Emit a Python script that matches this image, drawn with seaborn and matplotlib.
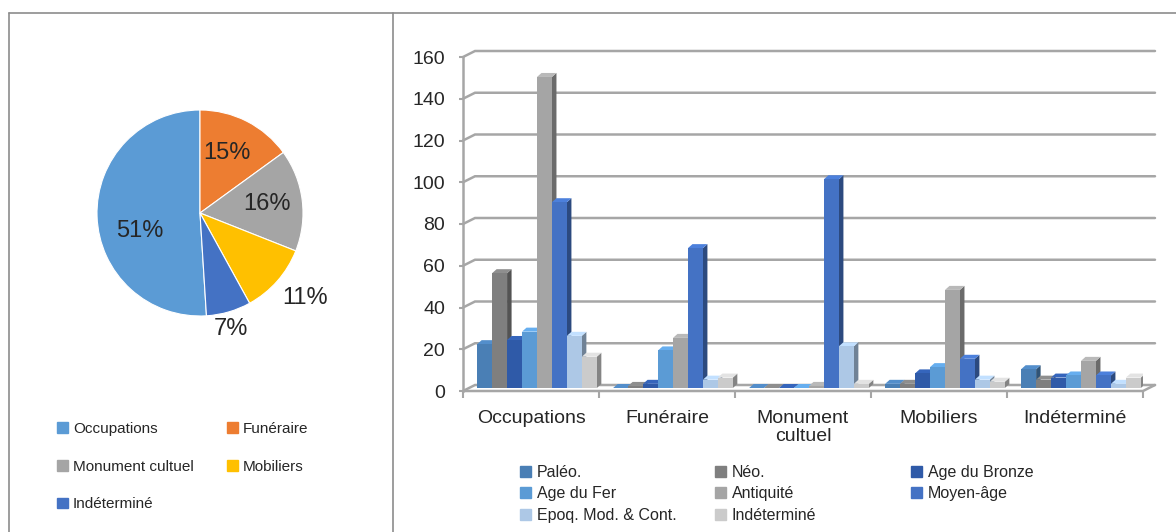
import numpy as np
import pandas as pd
import matplotlib
matplotlib.use("Agg")
import matplotlib.pyplot as plt
import seaborn as sns
from matplotlib.patches import Polygon, Rectangle
from matplotlib.lines import Line2D
import matplotlib.colors as mcolors

# ---- data ----
pie_labels = ["Occupations", "Funéraire", "Monument cultuel", "Mobiliers", "Indéterminé"]
pie_pct = [51, 15, 16, 11, 7]
pie_colors = ["#5B9BD5", "#ED7D31", "#A5A5A5", "#FFC000", "#4472C4"]

categories = ["Occupations", "Funéraire", "Monument\ncultuel", "Mobiliers", "Indéterminé"]
periods = ["Paléo.", "Néo.", "Age du Bronze", "Age du Fer", "Antiquité",
           "Moyen-âge", "Epoq. Mod. & Cont.", "Indéterminé"]
paleo = [21, 0, 0, 2, 9]
neo = [55, 1, 0, 2, 4]
bronze = [23, 2, 0, 7, 5]
fer = [27, 18, 0, 10, 6]
antiquite = [149, 24, 1, 47, 13]
moyen_age = [89, 67, 100, 14, 6]
epoque = [25, 4, 20, 4, 2]
indet = [15, 5, 2, 3, 5]
bar_colors = ["#4A7FB5", "#7F7F7F", "#2F5AA8", "#5B9BD5", "#A5A5A5",
              "#4472C4", "#ADC8E6", "#CBCBCB"]
yticks = [0, 20, 40, 60, 80, 100, 120, 140, 160]

series = [paleo, neo, bronze, fer, antiquite, moyen_age, epoque, indet]
df = pd.DataFrame({
    "cat": categories * len(periods),
    "period": np.repeat(periods, len(categories)),
    "val": np.concatenate(series),
})

sns.set_theme(style="white")
plt.rcParams["font.family"] = ["Liberation Sans", "DejaVu Sans"]

fig = plt.figure(figsize=(11.76, 5.32), dpi=100)
W, H = 1176, 532

def fx(px):
    return px / W

def fy(py):
    return 1 - py / H

# panel frames
border = "#8C8C8C"
fig.add_artist(Line2D([fx(9), 1], [fy(13), fy(13)], color=border, lw=1.2))
fig.add_artist(Line2D([fx(9), fx(9)], [0, fy(13)], color=border, lw=1.2))
fig.add_artist(Line2D([fx(393), fx(393)], [0, fy(13)], color=border, lw=1.2))

# ---- pie ----
r = 103
axp = fig.add_axes([fx(200 - r), fy(213 + r), fx(2 * r), 2 * r / H])
wedges, _ = axp.pie(pie_pct, colors=pie_colors, counterclock=False,
                    startangle=90 + pie_pct[0] * 3.6,
                    wedgeprops=dict(linewidth=0.8, edgecolor="white"))
# label placement (Excel "best fit"), in pie-radius units
label_pos = [(-0.58, -0.17), (0.26, 0.58), (0.65, 0.09), (1.02, -0.83), (0.30, -1.13)]
for p, (lx, ly) in zip(pie_pct, label_pos):
    axp.text(lx, ly, f"{p}%", ha="center", va="center", fontsize=17, color="#262626")
axp.set_aspect("equal")
axp.set_xlim(-1, 1)
axp.set_ylim(-1, 1)
axp.axis("off")

pie_handles = [Rectangle((0, 0), 1, 1, color=c) for c in pie_colors]
leg_kw = dict(loc="upper left", frameon=False, handlelength=0.7, handleheight=0.7,
              handletextpad=0.35, borderaxespad=0, borderpad=0)
for idx, xpos in [([0, 2, 4], 57), ([1, 3], 227)]:
    fig.legend([pie_handles[i] for i in idx], [pie_labels[i] for i in idx],
               bbox_to_anchor=(fx(xpos), fy(422)), fontsize=11, labelspacing=1.55, **leg_kw)

# ---- bars (3D-like clustered columns) ----
x0px, x1px, y0px, y1px = 463, 1143, 391, 57
ax = fig.add_axes([fx(x0px), fy(y0px), fx(x1px - x0px), (y0px - y1px) / H])
sns.barplot(data=df, x="cat", y="val", hue="period", palette=bar_colors,
            width=0.88, gap=0, ax=ax, legend=False, saturation=1)
ax.set_ylim(0, 160)
ax.set_xlim(-0.5, 4.5)

px_x = 1 / 136.0                 # data units per px in x
px_y = 160.0 / (y0px - y1px)     # data units per px in y
wall_dx, wall_dy = 12 * px_x, 6 * px_y
mid_dx, mid_dy = wall_dx / 2, wall_dy / 2
dx, dy = 4.5 * px_x, 4 * px_y

for cont, col in zip(ax.containers, bar_colors):
    base = np.array(mcolors.to_rgb(col))
    side = base * 0.65
    top = np.clip(base * 1.12, 0, 1)
    for b in cont:
        b.set_x(b.get_x() + mid_dx)
        b.set_y(mid_dy)
        xb, w, h = b.get_x(), b.get_width(), b.get_height()
        yt = mid_dy + h
        ax.add_patch(Polygon([[xb + w, mid_dy], [xb + w + dx, mid_dy + dy],
                              [xb + w + dx, yt + dy], [xb + w, yt]],
                             closed=True, facecolor=side, edgecolor="none", zorder=2))
        ax.add_patch(Polygon([[xb, yt], [xb + dx, yt + dy], [xb + w + dx, yt + dy], [xb + w, yt]],
                             closed=True, facecolor=top, edgecolor="none", zorder=2))
        b.set_zorder(3)
        b.set_edgecolor("none")

grid_c = "#A6A6A6"
xl, xr = -0.5, 4.5
for t in yticks:
    ax.plot([xl, xl + wall_dx, xr + wall_dx], [t, t + wall_dy, t + wall_dy],
            color=grid_c, lw=1.8, zorder=0, clip_on=False, solid_joinstyle="miter")
# floor front edge and right side
ax.plot([xl, xr, xr + wall_dx], [0, 0, wall_dy], color=grid_c, lw=1.8, zorder=1,
        clip_on=False)

ax.set_yticks(yticks)
ax.set_yticklabels([str(t) for t in yticks], fontsize=14, color="#262626")
ax.tick_params(axis="y", length=3, width=1.5, color=grid_c, pad=10, left=True)
ax.set_xticks(range(len(categories)))
ax.set_xticklabels(categories, linespacing=1.05)
ax.tick_params(axis="x", length=0, pad=14, labelsize=14, colors="#262626")
ax.set_xticks(np.arange(-0.5, 5.0, 1.0), minor=True)
ax.tick_params(axis="x", which="minor", length=5, color=grid_c, width=1.5, bottom=True)
ax.set_xlabel("")
ax.set_ylabel("")
for s in ["top", "right", "bottom"]:
    ax.spines[s].set_visible(False)
ax.spines["left"].set_color(grid_c)
ax.spines["left"].set_linewidth(1.8)

handles = [Rectangle((0, 0), 1, 1, color=c) for c in bar_colors]
for idx, xpos in [([0, 3, 6], 520), ([1, 4, 7], 715), ([2, 5], 911)]:
    fig.legend([handles[i] for i in idx], [periods[i] for i in idx],
               bbox_to_anchor=(fx(xpos), fy(465)), fontsize=11.5, labelspacing=0.4, **leg_kw)

fig.savefig("out.png", dpi=100, facecolor="white")
